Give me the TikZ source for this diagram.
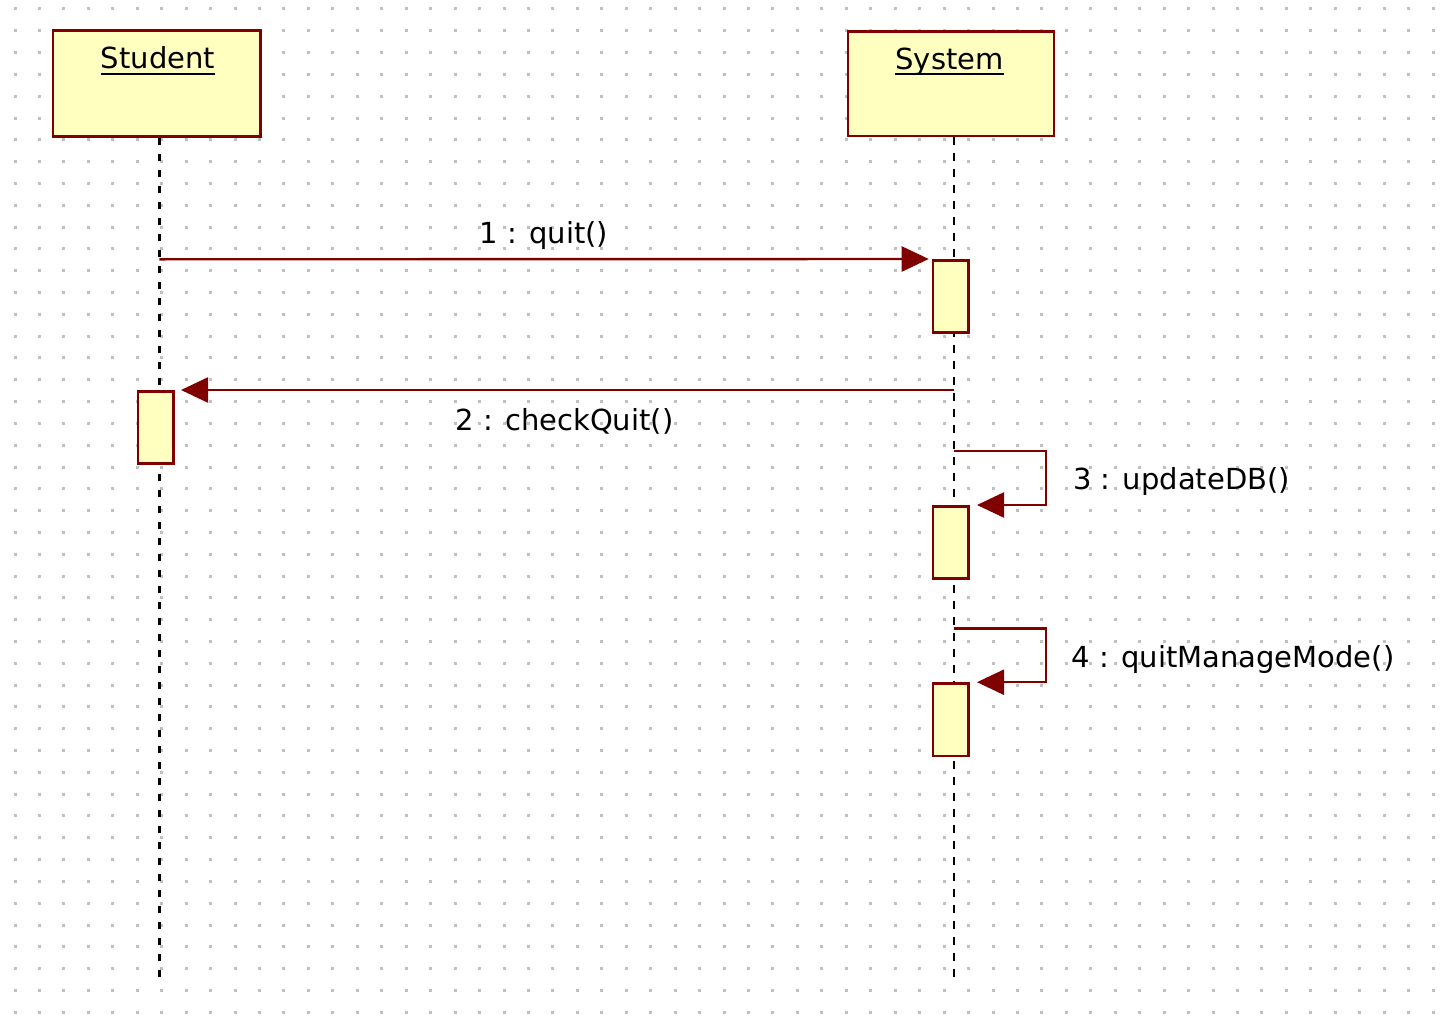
\documentclass[tikz,border=0pt]{standalone}
\usepackage{fontspec}
\setmainfont{DejaVu Sans}
\usetikzlibrary{arrows.meta}
\definecolor{umlred}{HTML}{800000}
\definecolor{umlfill}{HTML}{FFFFBF}
\definecolor{dotc}{HTML}{C0C0C0}
\tikzset{
  head/.style={draw=umlred, fill=umlfill, line width=2.7pt, inner sep=0pt},
  actbox/.style={draw=umlred, fill=umlfill, line width=2.7pt, inner sep=0pt,
    minimum width=35.6pt, minimum height=72.3pt},
  lifeline/.style={draw=black, line width=2.4pt, dash pattern=on 7.5pt off 8.5pt},
  msg/.style={draw=umlred, line width=2.4pt, -{Triangle[length=27pt,width=25pt]}},
  lbl/.style={inner sep=0pt, anchor=base, font=\fontsize{29pt}{34pt}\selectfont, text=black},
  uline/.style={draw=black, line width=2pt},
}
\begin{document}
\begin{tikzpicture}[x=1pt,y=-1pt]
\useasboundingbox (0,0) rectangle (1448,1033);
\fill[white] (0,0) rectangle (1448,1033);
% background dot grid
\foreach \i in {0,...,58}{
  \foreach \j in {0,...,46}{
    \fill[dotc] ({15+24.45*\i-1.5},{9+21.81*\j-1.5}) rectangle ++(3,3);
  }
}
% lifeline end points
\coordinate (stTop) at (159.3,137.7);
\coordinate (stEnd) at (159.3,980.7);
\coordinate (syTop) at (954,137.3);
\coordinate (syEnd) at (954,978.7);
\draw[lifeline] (stTop) -- (stEnd);
\draw[lifeline] (syTop) -- (syEnd);
% heads
\node[head, minimum width=207.3pt, minimum height=105.7pt] (student) at (156.7,83.5) {};
\node[head, minimum width=205.9pt, minimum height=104.6pt] (system) at (951,83.65) {};
\node[lbl] (stT) at (158,69) {Student};
\node[lbl] (syT) at (949.5,69.3) {System};
\draw[uline] ([yshift=-4.7pt]stT.base west) -- ([yshift=-4.7pt]stT.base east);
\draw[uline] ([yshift=-4.4pt]syT.base west) -- ([yshift=-4.4pt]syT.base east);
% activation boxes
\node[actbox] (act1) at (950.85,296.5) {};
\node[actbox] (actS) at (155.85,427.5) {};
\node[actbox] (act2) at (950.85,542.5) {};
\node[actbox] (act3) at (950.85,719.7) {};
% message start points
\coordinate (m1s) at (159.3,259.3);
\coordinate (m2s) at (954,390);
\coordinate (m3s) at (954,450.7);
\coordinate (m4s) at (954,628.3);
% messages
\draw[msg, shorten >=3pt] (m1s) -- (act1.north west);
\draw[msg, shorten >=6pt] (m2s) -- (actS.north east);
\draw[msg, shorten >=7pt] (m3s) -- ++(91.7,0) |- (act2.north east);
\draw[msg, shorten >=7pt] (m4s) -- ++(91.7,0) |- (act3.north east);
% labels
\node[lbl] (l1) at (543.8,243.3) {1 : quit()};
\node[lbl] (l2) at (564.5,430) {2 : checkQuit()};
\node[lbl] (l3) at (1181.5,489.3) {3 : updateDB()};
\node[lbl] (l4) at (1233,667.3) {4 : quitManageMode()};
\end{tikzpicture}
\end{document}
